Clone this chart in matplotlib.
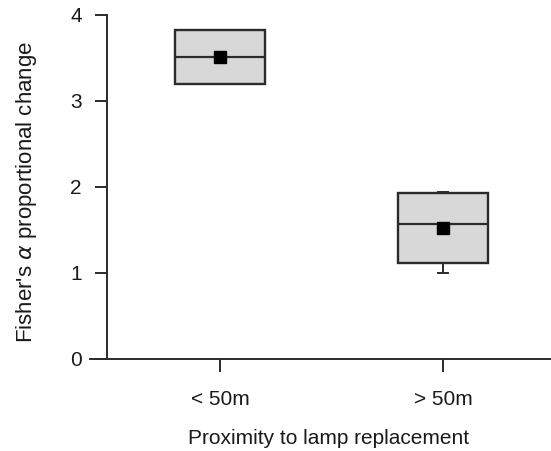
import matplotlib
matplotlib.use('Agg')
import matplotlib.pyplot as plt

plt.rcParams['font.family'] = ['Liberation Sans', 'DejaVu Sans']
plt.rcParams['mathtext.fontset'] = 'dejavusans'

# values
categories = ['< 50m', '> 50m']
q1 = [3.20, 1.12]
medians = [3.51, 1.57]
q3 = [3.83, 1.93]
whisk_lo = [3.20, 1.00]
whisk_hi = [3.83, 1.94]
means = [3.51, 1.52]
y_ticks = [0, 1, 2, 3, 4]

ink = '#2b2b2b'

stats = []
for i, name in enumerate(categories):
    stats.append(dict(label=name, q1=q1[i], med=medians[i], q3=q3[i],
                      whislo=whisk_lo[i], whishi=whisk_hi[i], fliers=[]))

fig = plt.figure(figsize=(5.51, 4.51), dpi=100)
ax = fig.add_axes([0.194, 0.204, 0.806, 0.763])

positions = list(range(1, len(categories) + 1))
ax.bxp(stats, positions=positions, widths=0.40, patch_artist=True,
       showfliers=False, capwidths=0.045,
       boxprops=dict(facecolor='#d8d8d8', edgecolor=ink, linewidth=1.7),
       medianprops=dict(color=ink, linewidth=1.6),
       whiskerprops=dict(color=ink, linewidth=1.4),
       capprops=dict(color=ink, linewidth=1.4))
ax.plot(positions, means, 's', color='black', markersize=8, zorder=5)

ax.set_xlim(0.493, 2.484)
ax.set_ylim(0, 4)
ax.set_xticks(positions)
ax.set_xticklabels(categories)
ax.set_yticks(y_ticks)

for side in ['top', 'right']:
    ax.spines[side].set_visible(False)
ax.spines['left'].set_bounds(0, 4)
ax.spines['bottom'].set_bounds(0.417, 2.484)
for side in ['left', 'bottom']:
    ax.spines[side].set_color(ink)
    ax.spines[side].set_linewidth(1.4)

ax.tick_params(axis='both', direction='out', length=9, width=1.4,
               color=ink, labelcolor='#1a1a1a', labelsize=15)
ax.tick_params(axis='x', pad=13)
ax.tick_params(axis='y', pad=9)

ax.set_xlabel('Proximity to lamp replacement', fontsize=15,
              color='#1a1a1a', labelpad=15)
ax.set_ylabel("Fisher's $\\alpha$ proportional change", fontsize=16,
              color='#1a1a1a')
ax.yaxis.set_label_coords(-0.154, 0.485)

fig.savefig('out.png', dpi=100)
